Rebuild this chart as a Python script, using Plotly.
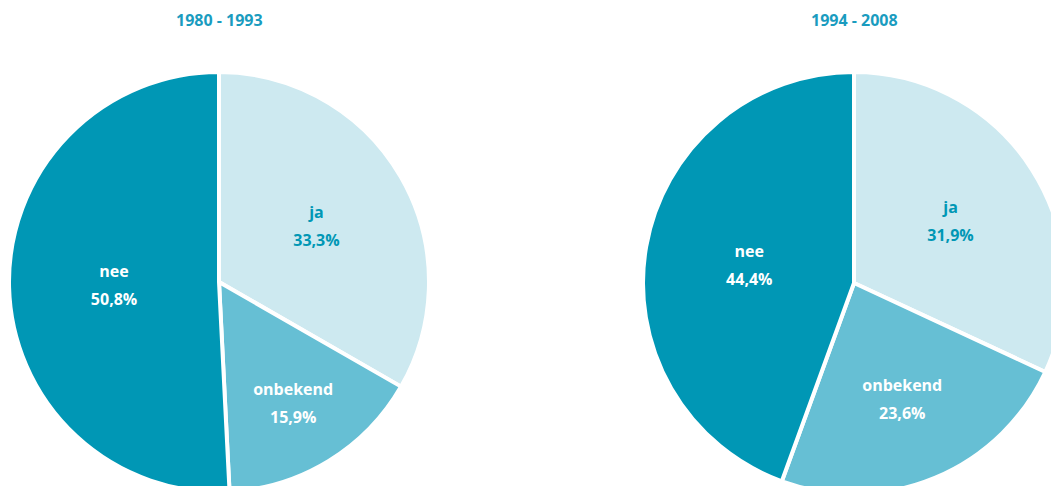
import plotly.graph_objects as go

labels = ["ja", "onbekend", "nee"]
values_1980_1993 = [33.3, 15.9, 50.8]
values_1994_2008 = [31.9, 23.6, 44.4]
titles = ["1980 - 1993", "1994 - 2008"]
colors = ["#CDE9F0", "#66BFD4", "#0097B5"]
text_colors = ["#0097B5", "#FFFFFF", "#FFFFFF"]

W, H = 1080, 520


def dom(cx, cy, r):
    return dict(x=[(cx - r) / W, (cx + r) / W], y=[1 - (cy + r) / H, 1 - (cy - r) / H])


def fmt(v):
    return f"{v:.1f}".replace(".", ",") + "%"


fig = go.Figure()
for vals, d in [(values_1980_1993, dom(219, 282, 210)), (values_1994_2008, dom(854, 283, 211))]:
    fig.add_trace(go.Pie(
        labels=labels, values=vals, sort=False, direction="clockwise", rotation=0,
        domain=d, marker=dict(colors=colors, line=dict(color="white", width=4)),
        text=[fmt(v) for v in vals],
        texttemplate="<span style='font-size:16px'><b>%{label}</b></span><br>"
                     "<span style='font-size:16px'><b>%{text}</b></span>",
        textposition="inside", insidetextorientation="horizontal",
        insidetextfont=dict(family="Open Sans", size=21.5, color=text_colors),
        hoverinfo="label+percent", showlegend=False,
    ))

for t, x in zip(titles, [219, 854]):
    fig.add_annotation(text=f"<b>{t}</b>", x=x / W, y=1 - 20 / H, xref="paper", yref="paper",
                       showarrow=False, font=dict(family="Open Sans", size=16, color="#1A9CBF"),
                       xanchor="center", yanchor="middle")

fig.update_layout(width=W, height=H, margin=dict(l=0, r=0, t=0, b=0),
                  paper_bgcolor="white", plot_bgcolor="white")

fig.write_html("out.html", config={"displayModeBar": False},
               post_script="document.body.style.margin='0';document.body.style.overflow='hidden';document.documentElement.style.overflow='hidden';")
